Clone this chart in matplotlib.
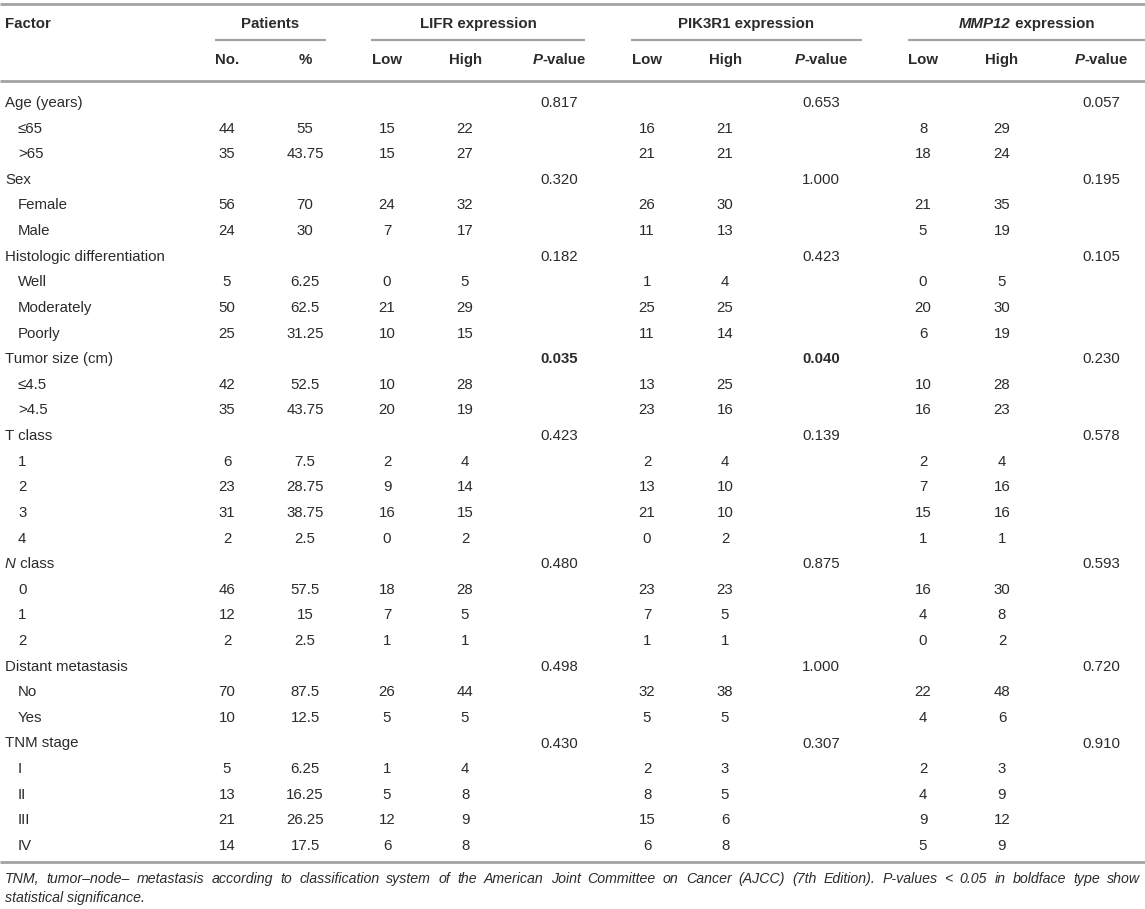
import matplotlib
matplotlib.use("Agg")
from matplotlib import pyplot as plt
from matplotlib import font_manager

# ---- data (row order, top to bottom) ----
factor_names = ["Age (years)", "Sex", "Histologic differentiation", "Tumor size (cm)",
                "T class", "N class", "Distant metastasis", "TNM stage"]
p_lifr = ["0.817", "0.320", "0.182", "0.035", "0.423", "0.480", "0.498", "0.430"]
p_pik3r1 = ["0.653", "1.000", "0.423", "0.040", "0.139", "0.875", "1.000", "0.307"]
p_mmp12 = ["0.057", "0.195", "0.105", "0.230", "0.578", "0.593", "0.720", "0.910"]

sub_labels = [
    ["≤65", ">65"],
    ["Female", "Male"],
    ["Well", "Moderately", "Poorly"],
    ["≤4.5", ">4.5"],
    ["1", "2", "3", "4"],
    ["0", "1", "2"],
    ["No", "Yes"],
    ["I", "II", "III", "IV"],
]
patients_no = ["44", "35", "56", "24", "5", "50", "25", "42", "35", "6", "23", "31", "2",
               "46", "12", "2", "70", "10", "5", "13", "21", "14"]
patients_pct = ["55", "43.75", "70", "30", "6.25", "62.5", "31.25", "52.5", "43.75", "7.5",
                "28.75", "38.75", "2.5", "57.5", "15", "2.5", "87.5", "12.5", "6.25", "16.25",
                "26.25", "17.5"]
lifr_low = ["15", "15", "24", "7", "0", "21", "10", "10", "20", "2", "9", "16", "0",
            "18", "7", "1", "26", "5", "1", "5", "12", "6"]
lifr_high = ["22", "27", "32", "17", "5", "29", "15", "28", "19", "4", "14", "15", "2",
             "28", "5", "1", "44", "5", "4", "8", "9", "8"]
pik3r1_low = ["16", "21", "26", "11", "1", "25", "11", "13", "23", "2", "13", "21", "0",
              "23", "7", "1", "32", "5", "2", "8", "15", "6"]
pik3r1_high = ["21", "21", "30", "13", "4", "25", "14", "25", "16", "4", "10", "10", "2",
               "23", "5", "1", "38", "5", "3", "5", "6", "8"]
mmp12_low = ["8", "18", "21", "5", "0", "20", "6", "10", "16", "2", "7", "15", "1",
             "16", "4", "0", "22", "4", "2", "4", "9", "5"]
mmp12_high = ["29", "24", "35", "19", "5", "30", "19", "28", "23", "4", "16", "16", "1",
              "30", "8", "2", "48", "6", "3", "9", "12", "9"]
significant = ["0.035", "0.040"]

footnote_1 = ("TNM, tumor–node– metastasis according to classification system of the American "
              "Joint Committee on Cancer (AJCC) (7th Edition). P-values < 0.05 in boldface type show")
footnote_2 = "statistical significance."

# ---- style ----
TXT = "#2b2b2b"
RULE = "#a3a3a3"
FS = 10.8


def have_font(name):
    try:
        font_manager.findfont(name, fallback_to_default=False)
        return True
    except Exception:
        return False


body_font = "Liberation Sans" if have_font("Liberation Sans") else "DejaVu Sans"
note_font = "Liberation Sans Narrow" if have_font("Liberation Sans Narrow") else body_font
plt.rcParams["font.family"] = [body_font, "DejaVu Sans"]

fig = plt.figure(figsize=(11.45, 9.09), dpi=100)
ax = fig.add_axes([0, 0, 1, 1])
ax.set_xlim(0, 1145)
ax.set_ylim(909, 0)
ax.axis("off")
renderer = fig.canvas.get_renderer()


def rich_text(x, y, parts, ha="center", size=FS):
    texts = []
    for s, style, weight in parts:
        t = ax.text(0, y, s, fontstyle=style, fontweight=weight, fontsize=size,
                    color=TXT, va="center", ha="left")
        texts.append(t)
    widths = [t.get_window_extent(renderer).width for t in texts]
    start = x - sum(widths) / 2 if ha == "center" else x
    for t, w in zip(texts, widths):
        t.set_x(start)
        start += w


def hline(y, x0, x1, lw):
    ax.plot([x0, x1], [y, y], color=RULE, lw=lw, solid_capstyle="butt")


# column centres
col_no, col_pct = 227, 305
col_groups = [(387, 465, 559), (647, 725, 821), (923, 1002, 1101)]
x_left, x_indent = 5, 18

# ---- header ----
hline(4, 0, 1145, 2.0)
hline(81, 0, 1145, 2.0)
rich_text(x_left, 24, [("Factor", "normal", "bold")], ha="left")
rich_text(270, 24, [("Patients", "normal", "bold")])
hline(40, 215, 326, 1.6)
group_titles = [
    [("LIFR expression", "normal", "bold")],
    [("PIK3R1 expression", "normal", "bold")],
    [("MMP12", "italic", "bold"), (" expression", "normal", "bold")],
]
group_lines = [(371, 585), (631, 862), (908, 1145)]
for title, (x0, x1) in zip(group_titles, group_lines):
    rich_text((x0 + x1) / 2, 24, title)
    hline(40, x0, x1, 1.6)

rich_text(col_no, 60, [("No.", "normal", "bold")])
rich_text(col_pct, 60, [("%", "normal", "bold")])
for lo, hi, pv in col_groups:
    rich_text(lo, 60, [("Low", "normal", "bold")])
    rich_text(hi, 60, [("High", "normal", "bold")])
    rich_text(pv, 60, [("P", "italic", "bold"), ("-value", "normal", "bold")])

# ---- body ----
y0, dy = 103, 25.62
row = 0
k = 0
for g, name in enumerate(factor_names):
    y = y0 + row * dy
    if name == "N class":
        rich_text(x_left, y, [("N", "italic", "normal"), (" class", "normal", "normal")], ha="left")
    else:
        rich_text(x_left, y, [(name, "normal", "normal")], ha="left")
    for (lo, hi, pv), p in zip(col_groups, [p_lifr[g], p_pik3r1[g], p_mmp12[g]]):
        w = "bold" if p in significant and g == 3 else "normal"
        rich_text(pv, y, [(p, "normal", w)])
    row += 1
    for lab in sub_labels[g]:
        y = y0 + row * dy
        rich_text(x_indent, y, [(lab, "normal", "normal")], ha="left")
        rich_text(col_no, y, [(patients_no[k], "normal", "normal")])
        rich_text(col_pct, y, [(patients_pct[k], "normal", "normal")])
        vals = [(lifr_low[k], lifr_high[k]), (pik3r1_low[k], pik3r1_high[k]),
                (mmp12_low[k], mmp12_high[k])]
        for (lo, hi, pv), (a, b) in zip(col_groups, vals):
            rich_text(lo, y, [(a, "normal", "normal")])
            rich_text(hi, y, [(b, "normal", "normal")])
        row += 1
        k += 1

hline(862, 0, 1145, 2.0)

# ---- footnote (first line justified) ----
words = footnote_1.split(" ")
word_texts = [ax.text(0, 879, w_, fontsize=10.2, fontstyle="italic", family=note_font,
                      color=TXT, va="center", ha="left") for w_ in words]
w_sizes = [t.get_window_extent(renderer).width for t in word_texts]
gap = (1140 - x_left - sum(w_sizes)) / (len(words) - 1)
xpos = x_left
for t, w_ in zip(word_texts, w_sizes):
    t.set_x(xpos)
    xpos += w_ + gap
ax.text(x_left, 898, footnote_2, fontsize=10.2, fontstyle="italic", family=note_font,
        color=TXT, va="center", ha="left")

fig.savefig("out.png", dpi=100)
